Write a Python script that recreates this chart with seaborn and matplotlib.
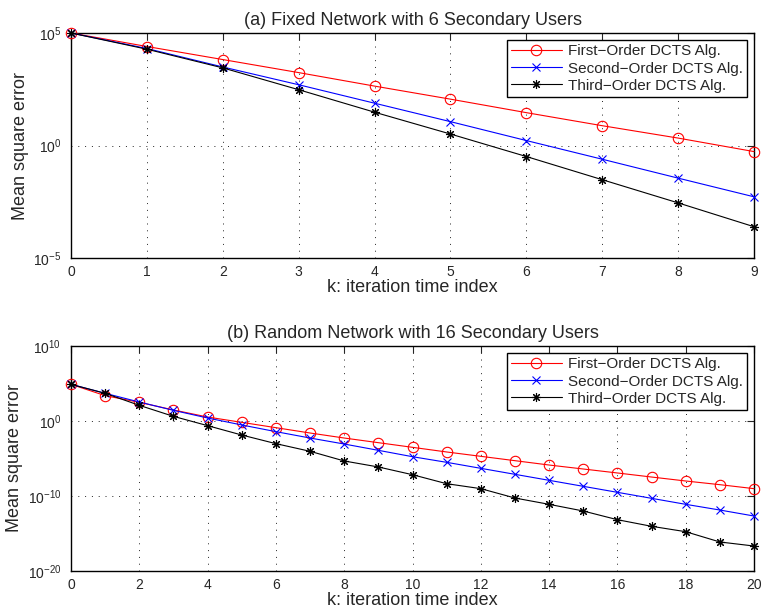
import matplotlib
matplotlib.use("Agg")
import matplotlib.pyplot as plt
import numpy as np
import pandas as pd
import seaborn as sns

series_names = ['First\u2212Order DCTS Alg.', 'Second\u2212Order DCTS Alg.',
                'Third\u2212Order DCTS Alg.']
series_colors = ['#ff0000', '#0000ff', '#000000']
series_markers = ['o', 'x', (8, 2, 0)]
series_msize = [7.5, 5.5, 6.5]

# (a) fixed network, log10 of MSE
k_fixed = list(range(10))
first_fixed = [5.0, 4.40, 3.82, 3.24, 2.64, 2.06, 1.46, 0.88, 0.33, -0.27]
second_fixed = [5.0, 4.31, 3.49, 2.70, 1.88, 1.06, 0.22, -0.61, -1.45, -2.28]
third_fixed = [5.0, 4.28, 3.45, 2.48, 1.48, 0.51, -0.49, -1.52, -2.55, -3.61]

# (b) random network, log10 of MSE
k_random = list(range(21))
first_random = [4.89, 3.38, 2.49, 1.47, 0.53, -0.18, -0.89, -1.60, -2.27, -2.89,
                -3.51, -4.13, -4.71, -5.29, -5.87, -6.40, -6.93, -7.47, -8.00,
                -8.49, -9.02]
second_random = [4.89, 3.69, 2.53, 1.42, 0.40, -0.53, -1.42, -2.27, -3.07, -3.91,
                 -4.76, -5.51, -6.31, -7.11, -7.91, -8.71, -9.51, -10.31, -11.11,
                 -11.87, -12.67]
third_random = [4.89, 3.69, 2.09, 0.62, -0.62, -1.87, -3.02, -4.04, -5.33, -6.13,
                -7.16, -8.36, -9.02, -10.27, -11.11, -12.00, -13.16, -14.04,
                -14.76, -16.13, -16.67]


def draw_panel(ax, k, curves, title, xticks, yticks, xlim, ylim):
    for name, vals, c, m, ms in zip(series_names, curves, series_colors,
                                    series_markers, series_msize):
        df = pd.DataFrame({"k": k, "MSE": [10.0 ** v for v in vals]})
        sns.lineplot(data=df, x="k", y="MSE", color=c, marker=m,
                     markersize=ms, mfc='none', mec=c, mew=0.8, lw=0.8,
                     label=name, ax=ax, clip_on=False, zorder=3)
    ax.set_yscale("log")
    ax.set_xlim(*xlim)
    ax.set_ylim(*ylim)
    ax.set_xticks(xticks)
    ax.set_yticks(yticks)
    ax.minorticks_off()
    ax.grid(True, linestyle=(0, (1, 6)), color='#222222', lw=0.7)
    ax.tick_params(direction='in', top=True, right=True, length=5,
                   labelsize=10, width=0.8)
    ax.tick_params(axis='x', pad=5)
    ax.tick_params(axis='y', pad=7)
    for s in ax.spines.values():
        s.set_visible(True)
        s.set_color('black')
        s.set_linewidth(1.0)
    ax.set_title(title, fontsize=13, pad=6)
    ax.set_xlabel("k: iteration time index", fontsize=13, labelpad=0)
    ax.set_ylabel("Mean square error", fontsize=13, labelpad=3)
    handles, labels = ax.get_legend_handles_labels()
    leg = ax.legend(handles, labels, loc='upper right', fontsize=11,
                    frameon=True, fancybox=False, edgecolor='black',
                    handlelength=3.3, borderpad=0.3, labelspacing=0.2,
                    handletextpad=0.4, borderaxespad=0.45)
    leg.get_frame().set_linewidth(1.0)
    leg.get_frame().set_alpha(1.0)
    leg.set_zorder(5)


def main():
    sns.set_style("white")
    plt.rcParams['font.family'] = ['Liberation Sans', 'DejaVu Sans']
    plt.rcParams['mathtext.fontset'] = 'custom'
    plt.rcParams['mathtext.rm'] = 'Liberation Sans'

    fig = plt.figure(figsize=(7.62, 6.15), dpi=100)
    ax1 = fig.add_axes([71 / 762, 1 - 258 / 615, (754 - 71) / 762, (258 - 33) / 615])
    ax2 = fig.add_axes([71 / 762, 1 - 571 / 615, (754 - 71) / 762, (571 - 346) / 615])

    draw_panel(ax1, k_fixed, [first_fixed, second_fixed, third_fixed],
               "(a) Fixed Network with 6 Secondary Users",
               list(range(10)), [1e-5, 1e0, 1e5], (0, 9), (1e-5, 1e5))
    draw_panel(ax2, k_random, [first_random, second_random, third_random],
               "(b) Random Network with 16 Secondary Users",
               list(range(0, 21, 2)), [1e-20, 1e-10, 1e0, 1e10], (0, 20),
               (1e-20, 1e10))

    fig.savefig("out.png", dpi=100)
    plt.close(fig)


if __name__ == "__main__":
    main()
